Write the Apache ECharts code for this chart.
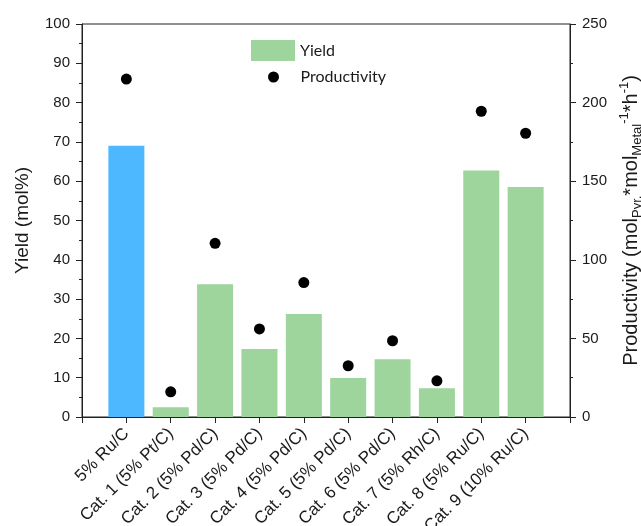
<!DOCTYPE html>
<html>
<head>
<meta charset="utf-8">
<script src="https://cdn.jsdelivr.net/npm/echarts@6/dist/echarts.min.js"></script>
<style>
  html, body { margin: 0; padding: 0; background: #fff; }
  #chart { width: 641px; height: 526px; }
</style>
</head>
<body>
<div id="chart"></div>
<script>
// catalysts on the x axis
var categories = [
  "5% Ru/C", "Cat. 1 (5% Pt/C)", "Cat. 2 (5% Pd/C)", "Cat. 3 (5% Pd/C)",
  "Cat. 4 (5% Pd/C)", "Cat. 5 (5% Pd/C)", "Cat. 6 (5% Pd/C)",
  "Cat. 7 (5% Rh/C)", "Cat. 8 (5% Ru/C)", "Cat. 9 (10% Ru/C)"
];
// yield, mol%
var yields = [69, 2.5, 33.8, 17.3, 26.2, 9.9, 14.7, 7.3, 62.7, 58.5];
// productivity, mol Pyr. / mol Metal / h
var productivity = [215, 16, 110.5, 56, 85.5, 32.6, 48.5, 23, 194.5, 180.5];
var yieldTicks = [0, 100, 10];
var prodTicks = [0, 250, 50];

var font = "Liberation Sans, Arial, sans-serif";
var txt = "#1a1a1a";

var barData = [];
var dotData = [];
for (var i = 0; i < categories.length; i++) {
  var item = { value: [i, yields[i]] };
  if (i === 0) item.itemStyle = { color: "#4DB8FF" };
  barData.push(item);
  dotData.push([i, productivity[i]]);
}

var myChart = echarts.init(document.getElementById("chart"));
var option = {
  animation: false,
  textStyle: { fontFamily: font },
  grid: {
    left: 82, right: 71, top: 24, bottom: 109,
    outerBoundsMode: "none", containLabel: false,
    show: true, borderColor: "#222", borderWidth: 1
  },
  legend: [
    {
      data: [{ name: "Yield", icon: "rect" }], left: 251, top: 40, orient: "vertical",
      padding: 0, itemWidth: 44, itemHeight: 21, itemGap: 0,
      textStyle: { fontSize: 16, color: txt, fontFamily: "Lato, Open Sans, sans-serif" }
    },
    {
      data: [{ name: "Productivity", icon: "circle" }], left: 268, top: 69, orient: "vertical",
      padding: 0, itemWidth: 44, itemHeight: 11, itemGap: 0,
      textStyle: { fontSize: 16, color: txt, fontFamily: "Lato, Open Sans, sans-serif" }
    }
  ],
  xAxis: {
    type: "value",
    min: -1, max: 10, interval: 1,
    splitLine: { show: false },
    axisLine: { onZero: false, lineStyle: { color: "#222", width: 1 } },
    axisTick: { length: 6, lineStyle: { color: "#222" } },
    axisLabel: {
      rotate: 45, margin: 14, fontSize: 17, color: txt,
      showMinLabel: true, showMaxLabel: true,
      formatter: function (v) { return categories[v] || ""; }
    }
  },
  yAxis: [
    {
      type: "value",
      min: yieldTicks[0], max: yieldTicks[1], interval: yieldTicks[2],
      name: "Yield (mol%)", nameLocation: "middle", nameGap: 50, nameRotate: 90,
      nameTextStyle: { fontSize: 19, color: txt },
      splitLine: { show: false },
      axisLine: { show: true, onZero: false, lineStyle: { color: "#222" } },
      axisTick: { show: true, length: 6, lineStyle: { color: "#222" } },
      minorTick: { show: true, splitNumber: 2, length: 3, lineStyle: { color: "#222" } },
      axisLabel: { fontSize: 15, color: txt, margin: 12 }
    },
    {
      type: "value",
      min: prodTicks[0], max: prodTicks[1], interval: prodTicks[2],
      position: "right",
      name: "Productivity (mol{sub|Pyr.}*mol{sub|Metal}{sup|-1}*h{sup|-1})",
      nameLocation: "middle", nameGap: 48, nameRotate: 90,
      nameTextStyle: {
        fontSize: 20, color: txt, lineHeight: 26,
        rich: {
          sub: { fontSize: 13, color: txt, verticalAlign: "bottom", lineHeight: 12 },
          sup: { fontSize: 13, color: txt, verticalAlign: "top", lineHeight: 12 }
        }
      },
      splitLine: { show: false },
      axisLine: { show: true, onZero: false, lineStyle: { color: "#222" } },
      axisTick: { show: true, length: 6, lineStyle: { color: "#222" } },
      minorTick: { show: true, splitNumber: 2, length: 3, lineStyle: { color: "#222" } },
      axisLabel: { fontSize: 15, color: txt, margin: 12 }
    }
  ],
  series: [
    {
      name: "Yield",
      type: "bar",
      barWidth: 36,
      itemStyle: { color: "#9DD59D" },
      data: barData
    },
    {
      name: "Productivity",
      type: "scatter",
      yAxisIndex: 1,
      symbolSize: 11,
      itemStyle: { color: "#000", opacity: 1 },
      data: dotData
    }
  ]
};
myChart.setOption(option);
window.addEventListener("resize", function () {
  myChart.resize();
});
</script>
</body>
</html>
